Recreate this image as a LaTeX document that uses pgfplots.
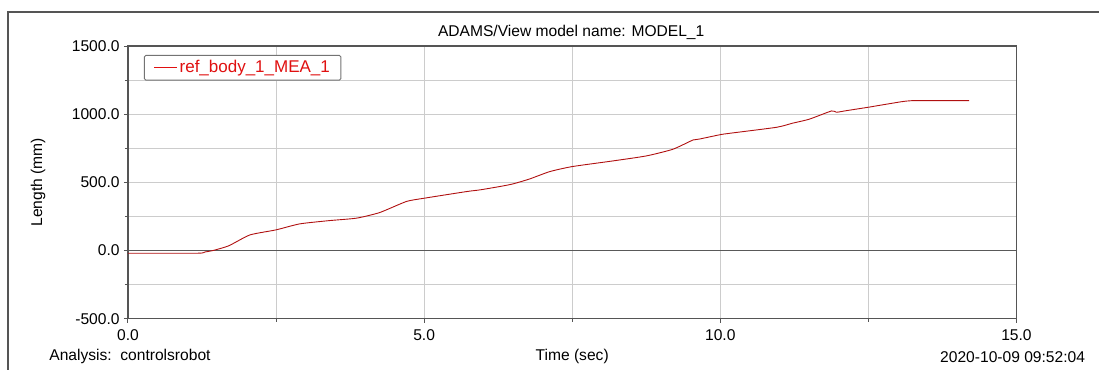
\documentclass[border=0pt]{standalone}
\usepackage{fontspec}
\setmainfont{Liberation Sans}
\usepackage{pgfplots}
\pgfplotsset{compat=1.18}
\definecolor{curve}{HTML}{B01010}
\definecolor{legred}{HTML}{E01010}
\definecolor{gridc}{HTML}{CCCCCC}
\definecolor{axisc}{HTML}{555555}
\newcommand{\fs}{\fontsize{15.6}{18}\selectfont}
\begin{document}
\fs
\begin{tikzpicture}[x=1pt,y=1pt]
\path (0,0) rectangle (1100,370);
\draw[line width=1.2pt, color=axisc] (8,0) -- (8,358) -- (1100,358);
\node[anchor=center] at (571.5,338) {ADAMS/View model name: MODEL\_1};
\node[anchor=west] at (44,13) {Analysis:\ \ controlsrobot};
\node[anchor=east] at (1091,13) {2020-10-09 09:52:04};
\begin{axis}[
  at={(128pt,51pt)}, anchor=south west,
  scale only axis, width=889pt, height=273pt,
  xmin=0, xmax=15, ymin=-500, ymax=1500,
  xtick={0,5,10,15}, minor xtick={2.5,7.5,12.5},
  ytick={-500,0,500,1000,1500}, minor ytick={-250,250,750,1250},
  grid=both,
  major grid style={gridc, line width=0.9pt},
  minor grid style={gridc, line width=0.9pt},
  tick align=outside, tick pos=lower,
  major tick length=4pt, minor tick length=3pt,
  tick style={axisc, line width=0.9pt},
  axis line style={axisc, line width=1.2pt},
  extra y ticks={0}, extra y tick labels={},
  extra y tick style={grid=major, major grid style={black!65, line width=1pt}, tick style={draw=none}},
  /pgf/number format/.cd, fixed, fixed zerofill, precision=1, 1000 sep={}, assume math mode=true,
  /pgfplots/.cd,
  tick label style={font=\fs},
  xticklabel style={yshift=-1pt},
  yticklabel style={xshift=1pt},
  xlabel={Time (sec)}, ylabel={Length (mm)},
  xlabel style={at={(axis description cs:0.5,0)}, anchor=center, yshift=-38pt},
  ylabel style={at={(axis description cs:0,0.5)}, anchor=center, yshift=90pt},
  label style={font=\fs},
  legend style={at={(0.018,0.967)}, anchor=north west, draw=gray!90!black, line width=0.9pt, rounded corners=1.5pt,
    font=\fontsize{17}{19}\selectfont\color{legred}, inner xsep=9pt, inner ysep=3pt, legend cell align=left},
  legend image code/.code={\draw[legred, line width=1.3pt] (0pt,0pt) -- (23pt,0pt);},
]
\addplot[curve, line width=0.9pt, smooth, tension=0.35] coordinates {
(0,-19) (1.18,-19) (1.3,-10) (1.43,0) (1.7,35) (2.06,115) (2.5,152) (2.9,196)
(3.4,220) (3.86,238) (4.25,279) (4.7,360) (5,384) (5.72,433) (5.94,445)
(6.28,470) (6.5,489) (6.78,525) (7.12,579) (7.5,616) (8.18,657) (8.75,694)
(9.2,743) (9.54,811) (9.65,818) (10,850) (10.16,860) (10.95,904) (11.22,934)
(11.5,963) (11.88,1024) (11.96,1014) (12.13,1026) (12.5,1051) (12.9,1080)
(13.23,1099) (14.2,1099)
};
\addlegendentry{ref\_body\_1\_MEA\_1}
\end{axis}
\end{tikzpicture}
\end{document}
